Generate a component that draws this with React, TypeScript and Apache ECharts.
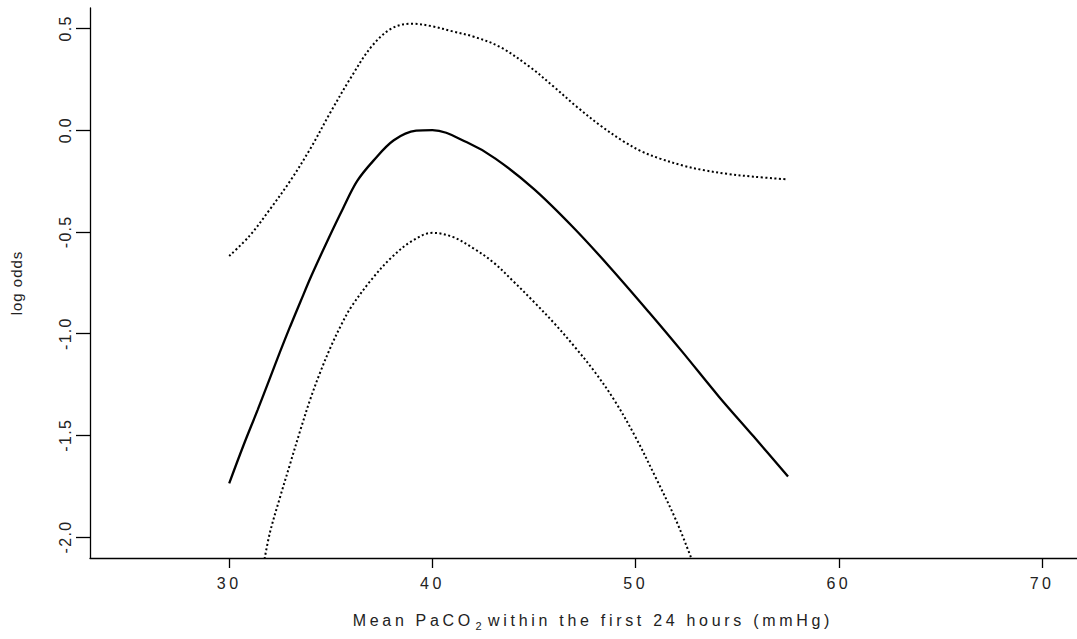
import React, { useEffect, useRef } from "react";
import * as echarts from "echarts";

// Solid line: estimated log odds
const xMain = [30, 30.7, 31.4, 32.0, 32.5, 33.0, 33.5, 34.05, 34.9, 35.6, 36.3, 37.1, 38.1, 39.2, 40.0, 41.7, 43.1, 45.0, 46.9, 48.7, 50.7, 52.3, 54.1, 55.8, 57.5];
const yMain = [-1.736, -1.55, -1.375, -1.22, -1.09, -0.965, -0.845, -0.715, -0.53, -0.385, -0.25, -0.15, -0.05, -0.003, 0.0, -0.06, -0.14, -0.29, -0.475, -0.67, -0.9, -1.09, -1.31, -1.505, -1.703];

// Upper dotted line: upper confidence bound
const xUpper = [30, 31, 32, 33, 34, 35, 36, 37, 38, 39, 40, 41, 42, 43.3, 44.8, 45.95, 47.1, 48.3, 49.4, 50.3, 51.2, 52.35, 53.3, 54.5, 55.8, 57.45];
const yUpper = [-0.619, -0.52, -0.39, -0.25, -0.09, 0.09, 0.26, 0.41, 0.5, 0.523, 0.51, 0.485, 0.46, 0.41, 0.31, 0.215, 0.115, 0.02, -0.055, -0.105, -0.14, -0.175, -0.196, -0.215, -0.229, -0.242];

// Lower dotted line: lower confidence bound
const xLower = [31.7, 32, 32.5, 33, 33.5, 34, 34.5, 35, 35.5, 36, 37, 38, 39, 40, 41, 42, 43, 44, 45, 46, 47, 48, 49, 50, 51, 52, 52.8];
const yLower = [-2.13, -1.98, -1.805, -1.64, -1.475, -1.32, -1.185, -1.065, -0.96, -0.87, -0.735, -0.625, -0.545, -0.505, -0.525, -0.58, -0.65, -0.745, -0.845, -0.95, -1.065, -1.19, -1.335, -1.51, -1.71, -1.92, -2.12];

const xTicks = [30, 40, 50, 60, 70];
const yTicks = [-2, -1.5, -1, -0.5, 0, 0.5];

const titleBefore = "Mean PaCO";
const titleSub = "2";
const titleAfter = "within the first 24 hours (mmHg)";
const yTitle = "log odds";

const zip = (xs: number[], ys: number[]) => xs.map((x, i) => [x, ys[i]]);

const css = `
#chartbox text[style*="lsx"]{letter-spacing:3.5px;}
#chartbox text[style*="lsy"]{letter-spacing:1.3px;}
#chartbox text[style*="lst"]{letter-spacing:3.7px;}
#chartbox text[style*="lsn"]{letter-spacing:1px;}
`;

export default function App() {
  const ref = useRef<HTMLDivElement>(null);
  useEffect(() => {
    if (!ref.current) return;
    const chart = echarts.init(ref.current, null, { renderer: "svg" });
    const black = "#000";
    chart.setOption({
      animation: false,
      backgroundColor: "#fff",
      grid: { left: 90, top: 8, right: 0, bottom: 81, containLabel: false },
      xAxis: {
        type: "value",
        min: 23.15,
        max: 71.72,
        axisLine: { show: true, onZero: false, lineStyle: { color: black, width: 1.3 } },
        axisTick: { show: true, customValues: xTicks, length: 10, lineStyle: { color: black, width: 1.3 } },
        axisLabel: {
          customValues: xTicks,
          margin: 17,
          color: "#222",
          fontSize: 16,
          fontFamily: "'Liberation Sans', lsx",
          formatter: (v: number) => String(v),
        },
        splitLine: { show: false },
      },
      yAxis: {
        type: "value",
        min: -2.103,
        max: 0.6,
        name: yTitle,
        nameLocation: "middle",
        nameGap: 66,
        nameRotate: 90,
        nameTextStyle: { color: "#222", fontSize: 15, fontFamily: "'Liberation Sans', lsn" },
        axisLine: { show: true, onZero: false, lineStyle: { color: black, width: 1.3 } },
        axisTick: { show: true, customValues: yTicks, length: 14, lineStyle: { color: black, width: 1.3 } },
        axisLabel: {
          customValues: yTicks,
          rotate: 90,
          margin: 17,
          color: "#222",
          fontSize: 16,
          fontFamily: "'Liberation Sans', lsy",
          formatter: (v: number) => v.toFixed(1),
        },
        splitLine: { show: false },
      },
      graphic: [
        {
          type: "text",
          x: 474,
          y: 620,
          silent: true,
          style: { text: titleBefore, fill: "#222", fontSize: 16, fontFamily: "'Liberation Sans', lst", align: "right", verticalAlign: "middle" },
        },
        {
          type: "text",
          x: 478.5,
          y: 626,
          silent: true,
          style: { text: titleSub, fill: "#222", fontSize: 11, fontFamily: "'Liberation Sans', lsq", align: "center", verticalAlign: "middle" },
        },
        {
          type: "text",
          x: 488,
          y: 620,
          silent: true,
          style: { text: titleAfter, fill: "#222", fontSize: 16, fontFamily: "'Liberation Sans', lst", align: "left", verticalAlign: "middle" },
        },
      ],
      series: [
        {
          type: "line",
          data: zip(xMain, yMain),
          showSymbol: false,
          smooth: 0.35,
          silent: true,
          clip: true,
          lineStyle: { color: black, width: 2.3 },
        },
        {
          type: "line",
          data: zip(xUpper, yUpper),
          showSymbol: false,
          smooth: 0.35,
          silent: true,
          clip: true,
          lineStyle: { color: black, width: 2, type: [2, 2.5] },
        },
        {
          type: "line",
          data: zip(xLower, yLower),
          showSymbol: false,
          smooth: 0.35,
          silent: true,
          clip: true,
          lineStyle: { color: black, width: 2, type: [2, 2.5] },
        },
      ],
    });
    return () => chart.dispose();
  }, []);
  return (
    <div id="chartbox" style={{ position: "absolute", left: 0, top: 0, width: 1077, height: 639, background: "#fff" }}>
      <style>{css}</style>
      <div ref={ref} style={{ width: 1077, height: 639 }} />
    </div>
  );
}
